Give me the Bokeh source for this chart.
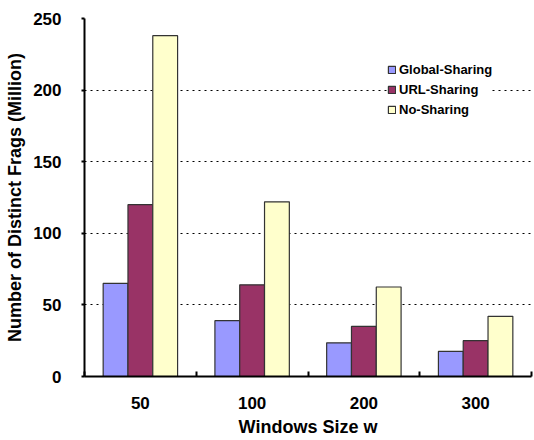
from bokeh.plotting import figure
from bokeh.models import FixedTicker, Legend, LegendItem, ColumnDataSource, Range1d
from bokeh.transform import dodge
from bokeh.embed import file_html
from bokeh.resources import INLINE

# ---- data ----
categories = ["50", "100", "200", "300"]
global_sharing = [65, 39, 23.5, 17.5]
url_sharing = [120, 64, 35, 25]
no_sharing = [238, 122, 62.5, 42]
y_ticks = [0, 50, 100, 150, 200, 250]
series_names = ["Global-Sharing", "URL-Sharing", "No-Sharing"]
series_colors = ["#9999FF", "#993366", "#FFFFCC"]

centers = [i + 0.5 for i in range(len(categories))]
bounds = [i for i in range(len(categories) + 1)]
source = ColumnDataSource(dict(x=centers, g=global_sharing, u=url_sharing, n=no_sharing))

FONT = "Liberation Sans"

p = figure(width=534, height=440,
           x_range=Range1d(0, len(categories)), y_range=Range1d(0, 250),
           output_backend="svg", toolbar_location=None,
           min_border_left=84, min_border_right=3, min_border_top=18, min_border_bottom=64)

bw = 0.222
renderers = []
for key, off, col in zip(["g", "u", "n"], [-bw, 0, bw], series_colors):
    r = p.vbar(x=dodge("x", off), top=key, width=bw, bottom=0, source=source,
               fill_color=col, line_color="#333333", line_width=1.2)
    renderers.append(r)

p.outline_line_color = None
p.background_fill_color = "white"
p.border_fill_color = "white"
p.xgrid.grid_line_color = None
p.ygrid.grid_line_color = "black"
p.ygrid.grid_line_dash = "2 4"
p.ygrid.grid_line_width = 1
p.ygrid.ticker = FixedTicker(ticks=y_ticks)

# x axis
xa = p.xaxis[0]
xa.ticker = FixedTicker(ticks=centers, minor_ticks=bounds)
xa.major_label_overrides = {c: lab for c, lab in zip(centers, categories)}
xa.major_tick_line_color = None
xa.major_tick_in = 0
xa.major_tick_out = 0
xa.minor_tick_line_color = "black"
xa.minor_tick_line_width = 2
xa.minor_tick_in = 5
xa.minor_tick_out = 0
xa.axis_line_width = 2
xa.axis_line_color = "black"
xa.major_label_text_font = FONT
xa.major_label_text_font_style = "bold"
xa.major_label_text_font_size = "17px"
xa.major_label_text_color = "black"
xa.major_label_standoff = 20
xa.axis_label = "Windows Size w"
xa.axis_label_text_font = FONT
xa.axis_label_text_font_style = "bold"
xa.axis_label_text_font_size = "18px"
xa.axis_label_text_color = "black"
xa.axis_label_standoff = 5

# y axis
ya = p.yaxis[0]
ya.ticker = FixedTicker(ticks=y_ticks)
ya.minor_tick_line_color = None
ya.major_tick_in = 0
ya.major_tick_out = 3
ya.major_tick_line_width = 2
ya.major_tick_line_color = "black"
ya.axis_line_width = 2
ya.axis_line_color = "black"
ya.major_label_text_font = FONT
ya.major_label_text_font_style = "bold"
ya.major_label_text_font_size = "17px"
ya.major_label_text_color = "black"
ya.major_label_standoff = 20
ya.axis_label = "Number of Distinct Frags (Million)"
ya.axis_label_text_font = FONT
ya.axis_label_text_font_style = "bold"
ya.axis_label_text_font_size = "18px"
ya.axis_label_text_color = "black"
ya.axis_label_standoff = 5

legend = Legend(items=[LegendItem(label=n, renderers=[r]) for n, r in zip(series_names, renderers)],
                location=(303, 259),
                glyph_width=9, glyph_height=9, label_standoff=3,
                label_height=15, spacing=5, padding=18, margin=0,
                label_text_font=FONT, label_text_font_style="bold",
                label_text_font_size="13px", label_text_color="black",
                background_fill_color="white", background_fill_alpha=1.0,
                border_line_color=None)
p.add_layout(legend)

open("out.html", "w").write(file_html(p, INLINE))
